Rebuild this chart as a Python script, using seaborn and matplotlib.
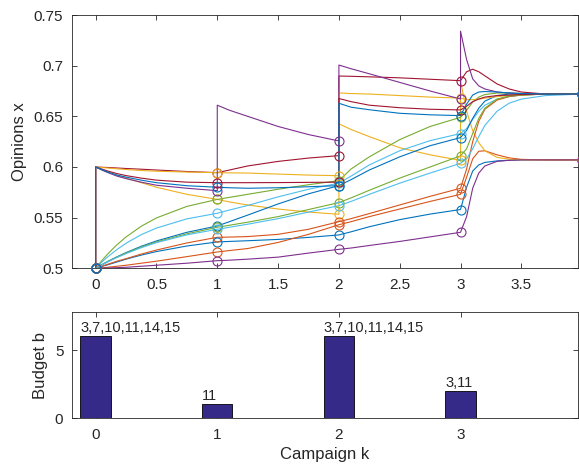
import numpy as np
import pandas as pd
import matplotlib
matplotlib.use('Agg')
import matplotlib.pyplot as plt
import seaborn as sns

# ---------------------------------------------------------
# Data
# ---------------------------------------------------------
# 15 agents, MATLAB default colour order (repeats every 7)
agent_colors = ['#0072BD', '#D95319', '#EDB120', '#7E2F8E', '#77AC30', '#4DBEEE', '#A2142F',
                '#0072BD', '#D95319', '#EDB120', '#7E2F8E', '#77AC30', '#4DBEEE', '#A2142F',
                '#0072BD']

# opinions before the first campaign
x_initial = [0.5, 0.5, 0.5, 0.5, 0.5, 0.5, 0.5, 0.5, 0.5, 0.5, 0.5, 0.5, 0.5, 0.5, 0.5]

# sample times inside each campaign interval (offset from k)
t_offsets_first = [0, 0.05, 0.1, 0.175, 0.25, 0.375, 0.5, 0.75, 1.0]
t_offsets = [0, 0.1, 0.25, 0.5, 0.75, 1.0]
t_offsets_last = [0, 0.05, 0.1, 0.15, 0.2, 0.3, 0.4, 0.5, 0.7, 1.0]

# interval k=0..1 (first value = opinion right after campaign 0)
x_seg0 = [
    [0.5, 0.5018, 0.5035, 0.5062, 0.509, 0.513, 0.5165, 0.522, 0.526],
    [0.5, 0.5004, 0.501, 0.502, 0.503, 0.505, 0.507, 0.5115, 0.5161],
    [0.6, 0.5975, 0.595, 0.592, 0.589, 0.5845, 0.580, 0.573, 0.568],
    [0.5, 0.5001, 0.5003, 0.5006, 0.501, 0.502, 0.503, 0.505, 0.5075],
    [0.5, 0.5075, 0.5142, 0.5232, 0.5309, 0.5415, 0.5497, 0.5611, 0.568],
    [0.5, 0.506, 0.5114, 0.5185, 0.5247, 0.5332, 0.5397, 0.5488, 0.5543],
    [0.6, 0.5997, 0.5995, 0.599, 0.5985, 0.5978, 0.597, 0.5955, 0.5944],
    [0.5, 0.5035, 0.5068, 0.5113, 0.5155, 0.5217, 0.527, 0.5355, 0.5418],
    [0.5, 0.502, 0.504, 0.507, 0.5095, 0.514, 0.518, 0.525, 0.5306],
    [0.6, 0.5995, 0.599, 0.5982, 0.5975, 0.5965, 0.5958, 0.595, 0.5944],
    [0.6, 0.597, 0.5945, 0.591, 0.5885, 0.585, 0.582, 0.579, 0.5766],
    [0.5, 0.5034, 0.5066, 0.511, 0.515, 0.521, 0.526, 0.534, 0.5405],
    [0.5, 0.5032, 0.5063, 0.5106, 0.5145, 0.5203, 0.5253, 0.533, 0.5385],
    [0.6, 0.598, 0.596, 0.5935, 0.5915, 0.589, 0.587, 0.585, 0.5845],
    [0.6, 0.5975, 0.595, 0.592, 0.590, 0.587, 0.5845, 0.5815, 0.580],
]

# interval k=1..2
x_seg1 = [
    [0.526, 0.5265, 0.5272, 0.5285, 0.5305, 0.5329],
    [0.5161, 0.5175, 0.5195, 0.5255, 0.5335, 0.543],
    [0.568, 0.5655, 0.5625, 0.5585, 0.5555, 0.5533],
    [0.5075, 0.508, 0.509, 0.511, 0.515, 0.5187],
    [0.568, 0.570, 0.573, 0.578, 0.5825, 0.5865],
    [0.5543, 0.5575, 0.562, 0.5705, 0.578, 0.584],
    [0.5944, 0.597, 0.601, 0.6055, 0.6088, 0.6112],
    [0.5418, 0.546, 0.5525, 0.5635, 0.5735, 0.5816],
    [0.5306, 0.5308, 0.5313, 0.5335, 0.5385, 0.546],
    [0.5944, 0.5942, 0.594, 0.593, 0.592, 0.5914],
    [0.661, 0.656, 0.650, 0.640, 0.632, 0.6257],
    [0.5405, 0.5425, 0.5455, 0.551, 0.558, 0.5648],
    [0.5385, 0.5405, 0.5435, 0.549, 0.5555, 0.5618],
    [0.5845, 0.5845, 0.5845, 0.5846, 0.5848, 0.585],
    [0.580, 0.5795, 0.579, 0.5795, 0.5805, 0.5816],
]

# interval k=2..3
x_seg2 = [
    [0.5329, 0.536, 0.541, 0.548, 0.5535, 0.558],
    [0.543, 0.546, 0.551, 0.5585, 0.566, 0.573],
    [0.6426, 0.637, 0.630, 0.619, 0.612, 0.6065],
    [0.5187, 0.520, 0.5225, 0.5265, 0.531, 0.5355],
    [0.5865, 0.598, 0.610, 0.627, 0.640, 0.649],
    [0.584, 0.591, 0.602, 0.616, 0.626, 0.633],
    [0.6898, 0.6895, 0.689, 0.688, 0.6866, 0.6852],
    [0.5816, 0.5875, 0.597, 0.610, 0.621, 0.629],
    [0.546, 0.549, 0.554, 0.5625, 0.571, 0.579],
    [0.6731, 0.6725, 0.672, 0.6705, 0.669, 0.668],
    [0.7006, 0.697, 0.692, 0.6835, 0.675, 0.6671],
    [0.5648, 0.5695, 0.577, 0.589, 0.600, 0.611],
    [0.5618, 0.566, 0.573, 0.584, 0.594, 0.6036],
    [0.6676, 0.6645, 0.661, 0.6585, 0.657, 0.6563],
    [0.6629, 0.659, 0.6565, 0.653, 0.6515, 0.6507],
]

# interval k=3..4
x_seg3 = [
    [0.558, 0.580, 0.596, 0.602, 0.6045, 0.606, 0.6067, 0.607, 0.607, 0.607],
    [0.573, 0.590, 0.608, 0.6155, 0.616, 0.612, 0.609, 0.6075, 0.607, 0.607],
    [0.6852, 0.655, 0.636, 0.624, 0.616, 0.6095, 0.6077, 0.607, 0.607, 0.607],
    [0.5355, 0.551, 0.579, 0.594, 0.601, 0.6055, 0.6066, 0.607, 0.607, 0.607],
    [0.649, 0.656, 0.664, 0.669, 0.6715, 0.673, 0.673, 0.6725, 0.672, 0.672],
    [0.633, 0.638, 0.647, 0.655, 0.661, 0.667, 0.6695, 0.671, 0.672, 0.672],
    [0.6852, 0.694, 0.6965, 0.694, 0.690, 0.682, 0.677, 0.674, 0.672, 0.672],
    [0.629, 0.636, 0.648, 0.658, 0.665, 0.6705, 0.672, 0.672, 0.672, 0.672],
    [0.579, 0.598, 0.625, 0.645, 0.657, 0.666, 0.6695, 0.671, 0.672, 0.672],
    [0.668, 0.6665, 0.6665, 0.667, 0.668, 0.6695, 0.6705, 0.6712, 0.672, 0.672],
    [0.7341, 0.706, 0.687, 0.680, 0.677, 0.674, 0.673, 0.6725, 0.672, 0.672],
    [0.611, 0.618, 0.633, 0.648, 0.658, 0.667, 0.670, 0.671, 0.672, 0.672],
    [0.6036, 0.608, 0.618, 0.630, 0.641, 0.655, 0.663, 0.667, 0.6705, 0.672],
    [0.6563, 0.660, 0.6645, 0.667, 0.669, 0.6705, 0.671, 0.6715, 0.672, 0.672],
    [0.6507, 0.662, 0.671, 0.674, 0.6745, 0.674, 0.673, 0.6725, 0.672, 0.672],
]

# budget per campaign and the targeted agents
campaign_k = [0, 1, 2, 3]
budget = [6, 1, 6, 2]
targets = ['3,7,10,11,14,15', '11', '3,7,10,11,14,15', '3,11']

x_ticks = [0, 0.5, 1, 1.5, 2, 2.5, 3, 3.5]
x_tick_labels = ['0', '0.5', '1', '1.5', '2', '2.5', '3', '3.5']
y_ticks = [0.5, 0.55, 0.6, 0.65, 0.7, 0.75]
y_tick_labels = ['0.5', '0.55', '0.6', '0.65', '0.7', '0.75']

# ---------------------------------------------------------
# Build long table: one row per (agent, time) sample
# ---------------------------------------------------------
segments = [x_seg0, x_seg1, x_seg2, x_seg3]
seg_offsets = [t_offsets_first, t_offsets, t_offsets, t_offsets_last]
rows = []
for i in range(len(x_initial)):
    rows.append((i + 1, 0.0, x_initial[i]))
    for k, seg in enumerate(segments):
        for dt, val in zip(seg_offsets[k], seg[i]):
            rows.append((i + 1, k + dt, val))
df = pd.DataFrame(rows, columns=['agent', 't', 'x'])

# circles: opinion just before each campaign (and at the end)
marker_t = [0, 1, 2, 3, 4]

# ---------------------------------------------------------
# Style
# ---------------------------------------------------------
sns.set_style('ticks')
plt.rcParams['font.family'] = ['Liberation Sans', 'DejaVu Sans']
plt.rcParams['font.size'] = 11
plt.rcParams['axes.labelsize'] = 12
plt.rcParams['xtick.labelsize'] = 11
plt.rcParams['ytick.labelsize'] = 11
plt.rcParams['axes.linewidth'] = 0.6
plt.rcParams['axes.edgecolor'] = '#262626'
plt.rcParams['xtick.direction'] = 'in'
plt.rcParams['ytick.direction'] = 'in'
plt.rcParams['xtick.top'] = True
plt.rcParams['ytick.right'] = True
plt.rcParams['xtick.major.size'] = 3.5
plt.rcParams['ytick.major.size'] = 3.5
plt.rcParams['xtick.major.width'] = 0.6
plt.rcParams['ytick.major.width'] = 0.6

fig = plt.figure(figsize=(5.79, 4.71), dpi=100)
ax1 = fig.add_axes([0.1238, 0.4304, 0.8745, 0.5377])
ax2 = fig.add_axes([0.1238, 0.1125, 0.8745, 0.2250])

xlim = (-0.197, 3.966)

# --- top: opinion trajectories
sns.lineplot(data=df, x='t', y='x', hue='agent', units='agent', estimator=None,
             sort=False, palette=agent_colors, legend=False, linewidth=0.8, ax=ax1)

for i in range(len(x_initial)):
    circ = [x_initial[i], x_seg0[i][-1], x_seg1[i][-1], x_seg2[i][-1], x_seg3[i][-1]]
    ax1.plot(marker_t, circ, linestyle='none', marker='o', markersize=6.5,
             markerfacecolor='none', markeredgecolor=agent_colors[i],
             markeredgewidth=0.8, clip_on=False, zorder=3)

ax1.set_xlim(*xlim)
ax1.set_ylim(0.5, 0.75)
ax1.set_xticks(x_ticks)
ax1.set_xticklabels(x_tick_labels)
ax1.set_yticks(y_ticks)
ax1.set_yticklabels(y_tick_labels)
ax1.set_xlabel('')
ax1.set_ylabel('Opinions x', labelpad=5)
ax1.tick_params(axis='x', pad=7)
ax1.tick_params(axis='y', pad=6)

# --- bottom: budget per campaign
sns.barplot(x=campaign_k, y=budget, native_scale=True, width=0.25, color='#352A87',
            saturation=1, edgecolor='black', linewidth=0.6, ax=ax2)
for k, b, lab in zip(campaign_k, budget, targets):
    ax2.text(k - 0.125, b + 0.3, lab, ha='left', va='baseline', fontsize=10.5)

ax2.set_xlim(*xlim)
ax2.set_ylim(0, 7.8)
ax2.set_xticks(campaign_k)
ax2.set_xticklabels([str(k) for k in campaign_k])
ax2.set_yticks([0, 5])
ax2.set_yticklabels(['0', '5'])
ax2.set_xlabel('Campaign k', labelpad=4)
ax2.set_ylabel('Budget b', labelpad=5)
ax2.tick_params(axis='x', pad=7)
ax2.tick_params(axis='y', pad=6)

plt.savefig('out.png', dpi=100)
